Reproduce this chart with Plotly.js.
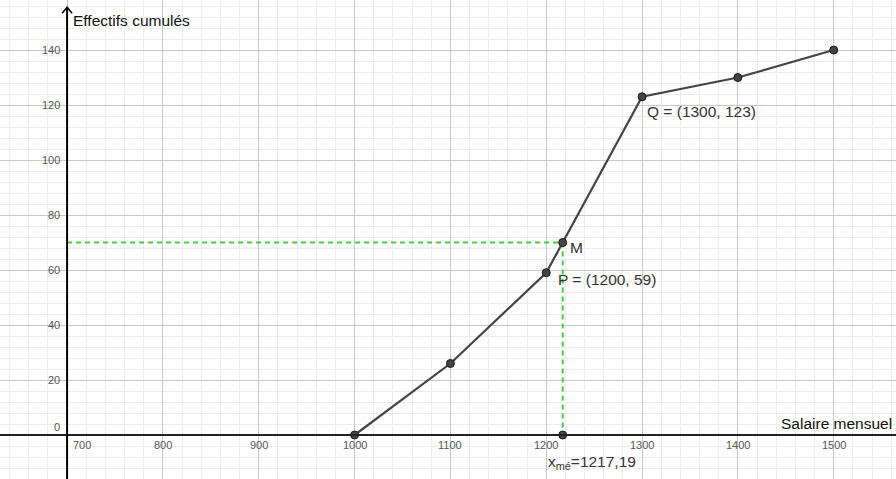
<!DOCTYPE html>
<html>
<head>
<meta charset="utf-8">
<script src="https://cdn.plot.ly/plotly-3.0.1.min.js"></script>
<style>html,body{margin:0;padding:0;background:#fff;}#chart{width:896px;height:479px;}</style>
</head>
<body>
<div id="chart"></div>
<script>
// Cumulative frequency polygon
const salaires = [1000, 1100, 1200, 1300, 1400, 1500];
const effectifsCumules = [0, 26, 59, 123, 130, 140];
const medianeX = 1217.19;
const medianeY = 70;
const xTicks = [700, 800, 900, 1000, 1100, 1200, 1300, 1400, 1500];
const yTicks = [0, 20, 40, 60, 80, 100, 120, 140];
const xAxisTitle = "Salaire mensuel";
const yAxisTitle = "Effectifs cumulés";
const labelQ = "Q = (1300, 123)";
const labelP = "P = (1200, 59)";
const labelM = "M";
const labelMed = "x<sub>mé</sub>=1217,19";

const FONT = "Liberation Sans, Arial, sans-serif";
const xMin = 630, xMax = 1565, yMin = -16, yMax = 158.2;
const originX = 700;
const arrowTipY = 155.6;

// polygon through M
const polyX = [], polyY = [];
salaires.forEach((s, i) => {
  if (i > 0 && salaires[i-1] < medianeX && s > medianeX) { polyX.push(medianeX); polyY.push(medianeY); }
  polyX.push(s); polyY.push(effectifsCumules[i]);
});

const traces = [
  { x: [originX, medianeX], y: [medianeY, medianeY], mode: 'lines',
    line: { color: '#44cc44', width: 2, dash: '5px,4px' }, hoverinfo: 'skip' },
  { x: [medianeX, medianeX], y: [medianeY, 0], mode: 'lines',
    line: { color: '#44cc44', width: 2, dash: '5px,4px' }, hoverinfo: 'skip' },
  { x: polyX, y: polyY, mode: 'lines',
    line: { color: '#444444', width: 2.2 }, hoverinfo: 'skip' },
  { x: salaires.concat([medianeX, medianeX]), y: effectifsCumules.concat([medianeY, 0]), mode: 'markers',
    marker: { color: '#444444', size: 8, line: { color: '#1a1a1a', width: 1 } }, hoverinfo: 'skip' }
];

const annotations = [];
xTicks.forEach(t => annotations.push({
  x: t, y: 0, xref: 'x', yref: 'y', text: String(t), showarrow: false,
  xanchor: 'center', yanchor: 'top', yshift: -2, xshift: t === originX ? 15 : 0,
  font: { family: FONT, size: 11, color: '#555' }
}));
yTicks.forEach(t => annotations.push({
  x: originX, y: t, xref: 'x', yref: 'y', text: String(t), showarrow: false,
  xanchor: 'right', yanchor: 'middle', xshift: -5, yshift: t === 0 ? 8 : 0,
  font: { family: FONT, size: 11, color: '#555' }
}));
// axis titles
annotations.push({ x: originX, y: yMax, xref: 'x', yref: 'y', text: yAxisTitle, showarrow: false,
  xanchor: 'left', yanchor: 'top', xshift: 4, yshift: -10, font: { family: FONT, size: 15.5, color: '#111' } });
annotations.push({ x: xMax, y: 0, xref: 'x', yref: 'y', text: xAxisTitle, showarrow: false,
  xanchor: 'right', yanchor: 'bottom', xshift: -2, yshift: 1, font: { family: FONT, size: 15.5, color: '#111' } });
// point labels
annotations.push({ x: 1300, y: 123, xref: 'x', yref: 'y', text: labelQ, showarrow: false,
  xanchor: 'left', yanchor: 'middle', xshift: 3, yshift: -15, font: { family: FONT, size: 15.5, color: '#333' } });
annotations.push({ x: 1200, y: 59, xref: 'x', yref: 'y', text: labelP, showarrow: false,
  xanchor: 'left', yanchor: 'middle', xshift: 10, yshift: -7, font: { family: FONT, size: 15.5, color: '#333' } });
annotations.push({ x: medianeX, y: medianeY, xref: 'x', yref: 'y', text: labelM, showarrow: false,
  xanchor: 'left', yanchor: 'middle', xshift: 5, yshift: -5, font: { family: FONT, size: 15.5, color: '#333' } });
annotations.push({ x: medianeX, y: 0, xref: 'x', yref: 'y', text: labelMed, showarrow: false,
  xanchor: 'left', yanchor: 'top', xshift: -17, yshift: -16, font: { family: FONT, size: 15.5, color: '#333' } });

const shapes = [
  // x axis
  { type: 'line', xref: 'x', yref: 'y', x0: xMin, x1: xMax, y0: 0, y1: 0,
    line: { color: '#222', width: 2 }, layer: 'above' },
  // y axis
  { type: 'line', xref: 'x', yref: 'y', x0: originX, x1: originX, y0: yMin, y1: arrowTipY,
    line: { color: '#000', width: 2 }, layer: 'above' },
  // y axis arrowhead
  { type: 'path', xref: 'x', yref: 'y', xsizemode: 'pixel', ysizemode: 'pixel',
    xanchor: originX, yanchor: arrowTipY, path: 'M -5 -6 L 0 0 L 5 -6',
    line: { color: '#000', width: 1.5 }, layer: 'above' }
];

const layout = {
  width: 896, height: 479,
  margin: { l: 0, r: 0, t: 0, b: 0 },
  paper_bgcolor: '#fff', plot_bgcolor: '#fff',
  showlegend: false,
  xaxis: { range: [xMin, xMax], showticklabels: false, ticks: '', zeroline: false,
    showgrid: true, gridcolor: '#c8c8c8', gridwidth: 1, dtick: 100, tick0: 0,
    minor: { dtick: 20, tick0: 0, showgrid: true, gridcolor: '#ececec', gridwidth: 1 },
    showline: false, fixedrange: true },
  yaxis: { range: [yMin, yMax], showticklabels: false, ticks: '', zeroline: false,
    showgrid: true, gridcolor: '#c8c8c8', gridwidth: 1, dtick: 20, tick0: 0,
    minor: { dtick: 4, tick0: 0, showgrid: true, gridcolor: '#ececec', gridwidth: 1 },
    showline: false, fixedrange: true },
  annotations: annotations,
  shapes: shapes
};

Plotly.newPlot('chart', traces, layout, { staticPlot: true, displayModeBar: false });
</script>
</body>
</html>
